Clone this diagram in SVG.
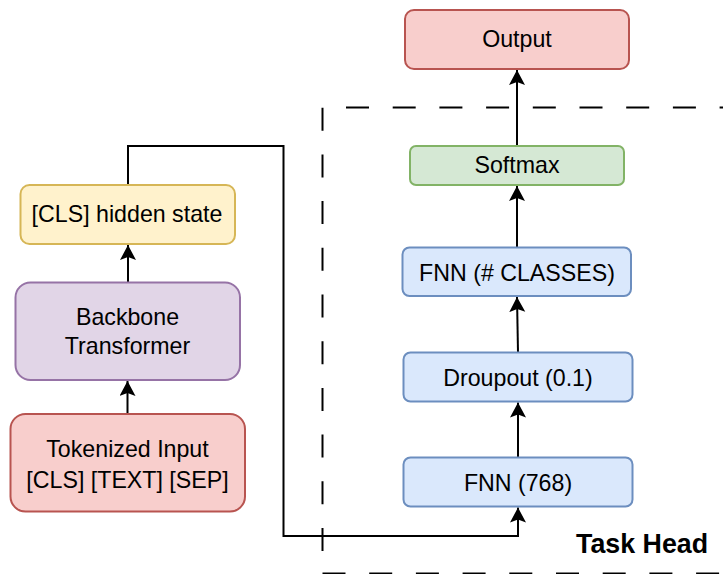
<svg xmlns="http://www.w3.org/2000/svg" width="723" height="574" viewBox="0 0 723 574">
<style>
.t{font-family:"Liberation Sans",Arial,sans-serif;font-size:23.2px;fill:#000;text-anchor:middle}
.b{font-family:"Liberation Sans",Arial,sans-serif;font-size:26.8px;font-weight:bold;fill:#000}
.e{fill:none;stroke:#000;stroke-width:2}
.red{fill:#f8cecc;stroke:#b85450;stroke-width:2}
.grn{fill:#d5e8d4;stroke:#82b366;stroke-width:2}
.blu{fill:#dae8fc;stroke:#6c8ebf;stroke-width:2}
.yel{fill:#fff2cc;stroke:#d6b656;stroke-width:2}
.pur{fill:#e1d5e7;stroke:#9673a6;stroke-width:2}
</style>
<defs>
<marker id="arr" markerUnits="userSpaceOnUse" markerWidth="18" markerHeight="18" refX="15" refY="8" orient="auto">
<path d="M0,0 L15,8 L0,16 L3,8 Z" fill="#000"/>
</marker>
</defs>
<g id="taskhead-frame">
<path d="M322.5,551 V107.5 H723 M322.5,573.5 H723" fill="none" stroke="#000" stroke-width="2" stroke-dasharray="23 23.7"/>
<text class="b" x="576" y="553">Task Head</text>
</g>
<g id="connectors">
<path class="e" d="M127.5,414 V381" marker-end="url(#arr)"/>
<path class="e" d="M128,282.5 V245" marker-end="url(#arr)"/>
<path class="e" d="M128,185 V146 H283.5 V536 H518 V507.5" marker-end="url(#arr)"/>
<path class="e" d="M518,457.5 V402.5" marker-end="url(#arr)"/>
<path class="e" d="M518,352.5 L517,297" marker-end="url(#arr)"/>
<path class="e" d="M517,247.5 V186" marker-end="url(#arr)"/>
<path class="e" d="M517,146 V70" marker-end="url(#arr)"/>
</g>
<g id="output"><rect class="red" x="405" y="10" width="224" height="59" rx="9"/><text class="t" x="517" y="46.5">Output</text></g>
<g id="softmax"><rect class="grn" x="410" y="146" width="214" height="39" rx="6"/><text class="t" x="517" y="173">Softmax</text></g>
<g id="fnn-classes"><rect class="blu" x="402.5" y="247.5" width="228.5" height="48.5" rx="7"/><text class="t" x="517" y="281">FNN (# CLASSES)</text></g>
<g id="dropout"><rect class="blu" x="403.5" y="352.5" width="229" height="49" rx="7"/><text class="t" x="518" y="386">Droupout (0.1)</text></g>
<g id="fnn-768"><rect class="blu" x="403.5" y="457.5" width="229" height="49" rx="7"/><text class="t" x="518" y="490.5">FNN (768)</text></g>
<g id="cls-hidden"><rect class="yel" x="20.5" y="185" width="214.5" height="59" rx="9"/><text class="t" x="127" y="222">[CLS] hidden state</text></g>
<g id="backbone"><rect class="pur" x="15.5" y="282.5" width="224.5" height="97.5" rx="15"/><text class="t" x="127.5" y="325">Backbone</text><text class="t" x="127.5" y="354">Transformer</text></g>
<g id="tokenized-input"><rect class="red" x="10.5" y="414" width="234.5" height="97.5" rx="15"/><text class="t" x="127.5" y="457">Tokenized Input</text><text class="t" x="127.5" y="487.5">[CLS] [TEXT] [SEP]</text></g>
</svg>
